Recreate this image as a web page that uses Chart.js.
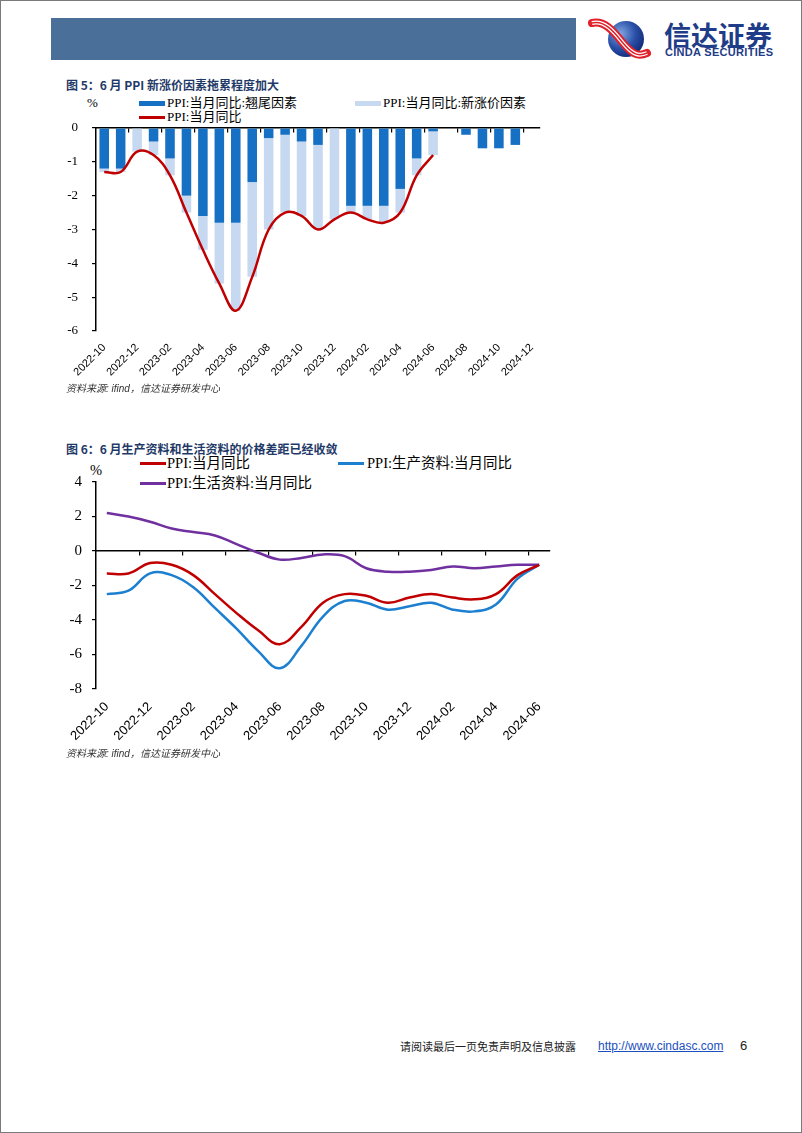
<!DOCTYPE html>
<html lang="zh-CN">
<head>
<meta charset="utf-8">
<title>PPI 新涨价因素与翘尾因素</title>
<script src="https://cdn.jsdelivr.net/npm/chart.js@4.4.1/dist/chart.umd.min.js"></script>
<style>
  body { margin: 0; background: #fff; }
  #page { position: relative; width: 802px; height: 1133px; overflow: hidden; font-family: "Liberation Serif", "Noto Sans CJK SC", serif; color: #000; }
  #frame { position: absolute; left: 0; top: 0; width: 802px; height: 1133px; box-sizing: border-box; border: 1px solid #7a7a7a; }
  .abs { position: absolute; white-space: nowrap; }
  .title { font-family: "Noto Sans CJK SC", sans-serif; font-weight: bold; font-size: 12px; line-height: 14px; color: #1f3a68; }
  .source { font-family: "Liberation Sans", "Noto Sans CJK SC", sans-serif; font-style: italic; font-size: 10px; line-height: 12px; color: #333; }
  .lg1 { font-size: 13px; line-height: 14px; }
  .lg2 { font-size: 14.5px; line-height: 16px; }
  .swatch { position: absolute; }
  canvas { position: absolute; }
</style>
</head>
<body>
<div id="page">
  <div id="frame"></div>

  <!-- header -->
  <div class="abs" style="left:51px;top:18px;width:525px;height:42px;background:#4a6f98;"></div>
  <svg class="abs" style="left:585px;top:12px;" width="70" height="52" viewBox="0 0 70 52">
    <defs>
      <radialGradient id="globe" cx="0.35" cy="0.35" r="0.75">
        <stop offset="0" stop-color="#7fa6e0"/>
        <stop offset="0.55" stop-color="#2a4fa8"/>
        <stop offset="1" stop-color="#0f2570"/>
      </radialGradient>
    </defs>
    <circle cx="41" cy="27" r="18" fill="url(#globe)"/>
    <path d="M7 11 C 20 8, 29 20, 38 31 S 53 45, 62 41" fill="none" stroke="#e0202a" stroke-width="8" stroke-linecap="round"/>
    <path d="M7 11 C 20 8, 29 20, 38 31 S 53 45, 62 41" fill="none" stroke="#fff" stroke-width="4"/>
    <path d="M7 11 C 20 8, 29 20, 38 31 S 53 45, 62 41" fill="none" stroke="#e0202a" stroke-width="1.5"/>
  </svg>
  <div class="abs" style="left:664px;top:21px;font-family:'Noto Sans CJK SC',sans-serif;font-weight:bold;font-size:27px;line-height:27px;color:#1f3c88;">信达证券</div>
  <div class="abs" style="left:665px;top:46px;font-family:'Liberation Sans',sans-serif;font-weight:bold;font-size:11px;line-height:12px;color:#1f3c88;letter-spacing:0.3px;">CINDA SECURITIES</div>

  <!-- chart 5 -->
  <div class="abs title" style="left:66px;top:78px;">图 5：6 月 PPI 新涨价因素拖累程度加大</div>
  <div class="abs lg1" style="left:87px;top:96px;">%</div>
  <div class="swatch" style="left:139px;top:101px;width:26px;height:5px;background:#1670c4;"></div>
  <div class="abs lg1" style="left:167px;top:96px;">PPI:当月同比:翘尾因素</div>
  <div class="swatch" style="left:355px;top:101px;width:26px;height:5px;background:#c6d9f0;"></div>
  <div class="abs lg1" style="left:383px;top:96px;">PPI:当月同比:新涨价因素</div>
  <div class="swatch" style="left:139px;top:116px;width:26px;height:2.5px;background:#c00000;"></div>
  <div class="abs lg1" style="left:167px;top:110px;">PPI:当月同比</div>
  <canvas id="chart5" width="500" height="277" style="left:50px;top:115px;"></canvas>
  <div class="abs source" style="left:66px;top:383px;">资料来源: ifind，信达证券研发中心</div>

  <!-- chart 6 -->
  <div class="abs title" style="left:66px;top:442px;">图 6：6 月生产资料和生活资料的价格差距已经收敛</div>
  <div class="abs lg2" style="left:90px;top:462px;">%</div>
  <div class="swatch" style="left:140px;top:462px;width:26px;height:2.5px;background:#c00000;"></div>
  <div class="abs lg2" style="left:167px;top:455px;">PPI:当月同比</div>
  <div class="swatch" style="left:338px;top:462px;width:26px;height:2.5px;background:#1c7fcf;"></div>
  <div class="abs lg2" style="left:367px;top:455px;">PPI:生产资料:当月同比</div>
  <div class="swatch" style="left:140px;top:482px;width:26px;height:2.5px;background:#7030a0;"></div>
  <div class="abs lg2" style="left:167px;top:475px;">PPI:生活资料:当月同比</div>
  <canvas id="chart6" width="510" height="295" style="left:50px;top:470px;"></canvas>
  <div class="abs source" style="left:66px;top:748px;">资料来源: ifind，信达证券研发中心</div>

  <!-- footer -->
  <div class="abs" style="left:400px;top:1038px;font-family:'Noto Sans CJK SC',sans-serif;font-size:11px;line-height:16px;color:#222;">请阅读最后一页免责声明及信息披露</div>
  <div class="abs" style="left:598px;top:1038px;font-family:'Liberation Sans',sans-serif;font-size:12px;line-height:16px;color:#1a4fc0;text-decoration:underline;">http://www.cindasc.com</div>
  <div class="abs" style="left:740px;top:1038px;font-family:'Liberation Sans',sans-serif;font-size:13px;line-height:16px;color:#222;">6</div>
</div>

<script>
// chart 5: months through 2024-12, carry-over / new-price factors, PPI yoy
const months5 = [
  '2022-10', '2022-11', '2022-12', '2023-01', '2023-02', '2023-03', '2023-04', '2023-05', '2023-06',
  '2023-07', '2023-08', '2023-09', '2023-10', '2023-11', '2023-12', '2024-01', '2024-02', '2024-03',
  '2024-04', '2024-05', '2024-06', '2024-07', '2024-08', '2024-09', '2024-10', '2024-11', '2024-12'
];
const carryOver = [-1.2, -1.2, 0, -0.4, -0.9, -2.0, -2.6, -2.8, -2.8, -1.6, -0.3, -0.2, -0.4, -0.5, 0,
  -2.3, -2.3, -2.3, -1.8, -0.9, -0.1, null, -0.2, -0.6, -0.6, -0.5, null];
const newPrice = [-0.1, -0.1, -0.7, -0.4, -0.5, -0.5, -1.0, -1.8, -2.6, -2.8, -2.7, -2.3, -2.2, -2.5, -2.7,
  -0.2, -0.4, -0.5, -0.7, -0.5, -0.7, null, null, null, null, null, null];
const ppiYoy = [-1.3, -1.3, -0.7, -0.8, -1.4, -2.5, -3.6, -4.6, -5.4, -4.4, -3.0, -2.5, -2.6, -3.0, -2.7,
  -2.5, -2.7, -2.8, -2.5, -1.4, -0.8];

// chart 6: months through 2024-06
const months6 = months5.slice(0, 21);
const producerYoy = [-2.5, -2.3, -1.3, -1.4, -2.1, -3.3, -4.5, -5.8, -6.8, -5.5, -3.8, -2.9, -3.0, -3.4, -3.2,
  -3.0, -3.4, -3.5, -3.1, -1.6, -0.8];
const consumerYoy = [2.2, 2.0, 1.7, 1.3, 1.1, 0.9, 0.4, -0.1, -0.5, -0.4, -0.2, -0.3, -1.0, -1.2, -1.2,
  -1.1, -0.9, -1.0, -0.9, -0.8, -0.8];

const serif = '"Liberation Serif", "Times New Roman", serif';
const sans = '"Liberation Sans", Arial, sans-serif';

Chart.defaults.font.family = serif;
Chart.defaults.color = '#000';

// tick marks on the zero line every other month boundary
const evenTick = (ctx) => (ctx.index > 0 && ctx.index % 2 === 0 ? '#000' : 'rgba(0,0,0,0)');

// keep the plot box where the page layout wants it
const noPad = (scale) => {
  scale.paddingTop = 0;
  scale.paddingBottom = 0;
  scale.paddingLeft = 0;
  scale.paddingRight = 0;
};

const buildScales = ({ yMin, yMax, yStep, yFont, yPad, xFont, xHeight, stacked }) => ({
  x: {
    offset: true,
    stacked,
    grid: { display: false },
    border: { display: false },
    ticks: {
      autoSkip: false,
      maxRotation: 45,
      minRotation: 45,
      padding: 2,
      font: { family: sans, size: xFont },
      callback: function (value, index) {
        return index % 2 === 0 ? this.getLabelForValue(value) : '';
      }
    },
    afterFit: (scale) => { scale.height = xHeight; noPad(scale); }
  },
  zero: {
    type: 'category',
    axis: 'x',
    position: { y: 0 },
    offset: true,
    grid: { offset: true, drawOnChartArea: false, drawTicks: true, tickLength: 4, lineWidth: 1.2, color: evenTick },
    border: { display: true, color: '#000', width: 1.5 },
    ticks: { display: false },
    afterFit: noPad
  },
  y: {
    min: yMin,
    max: yMax,
    stacked,
    ticks: { stepSize: yStep, padding: yPad, font: { family: serif, size: yFont } },
    grid: { drawOnChartArea: false, drawTicks: true, tickLength: 4, color: '#000', lineWidth: 1.2 },
    border: { display: true, color: '#000', width: 1.5 },
    afterFit: (scale) => { scale.width = 46; noPad(scale); }
  }
});

const commonOptions = (scales, padTop) => ({
  responsive: false,
  animation: false,
  devicePixelRatio: 1,
  layout: { padding: { top: padTop, right: 10, left: 0, bottom: 0 } },
  plugins: { legend: { display: false }, tooltip: { enabled: false } },
  scales
});

new Chart(document.querySelector('#chart5'), {
  type: 'bar',
  data: {
    labels: months5,
    datasets: [
      { type: 'line', label: 'PPI:当月同比', data: ppiYoy, borderColor: '#c00000', borderWidth: 2.5,
        pointRadius: 0, tension: 0.4, order: 0 },
      { label: 'PPI:当月同比:翘尾因素', data: carryOver, backgroundColor: '#1670c4', stack: 'ppi',
        barPercentage: 0.58, categoryPercentage: 1, order: 1 },
      { label: 'PPI:当月同比:新涨价因素', data: newPrice, backgroundColor: '#c6d9f0', stack: 'ppi',
        barPercentage: 0.58, categoryPercentage: 1, order: 1 }
    ]
  },
  options: commonOptions(buildScales({ yMin: -6, yMax: 0, yStep: 1, yFont: 13, yPad: 14, xFont: 11, xHeight: 61, stacked: true }), 13)
});

new Chart(document.querySelector('#chart6'), {
  type: 'line',
  data: {
    labels: months6,
    datasets: [
      { label: 'PPI:当月同比', data: ppiYoy, borderColor: '#c00000', borderWidth: 2.5, pointRadius: 0, tension: 0.4 },
      { label: 'PPI:生产资料:当月同比', data: producerYoy, borderColor: '#1c7fcf', borderWidth: 2.5, pointRadius: 0, tension: 0.4 },
      { label: 'PPI:生活资料:当月同比', data: consumerYoy, borderColor: '#7030a0', borderWidth: 2.5, pointRadius: 0, tension: 0.4 }
    ]
  },
  options: commonOptions(buildScales({ yMin: -8, yMax: 4, yStep: 2, yFont: 15, yPad: 10, xFont: 13, xHeight: 76, stacked: false }), 12)
});
</script>
</body>
</html>
